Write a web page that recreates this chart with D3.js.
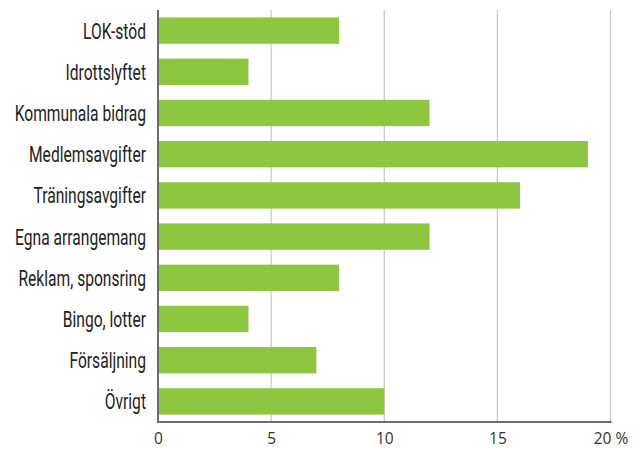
<!DOCTYPE html>
<html>
<head>
<meta charset="utf-8">
<script src="https://cdn.jsdelivr.net/npm/d3@7"></script>
<style>
  html, body { margin: 0; padding: 0; background: #fff; }
  svg { display: block; }
</style>
</head>
<body>
<svg id="chart" width="640" height="449"></svg>
<script>
// Income sources, share in percent
const categories = ["LOK-stöd", "Idrottslyftet", "Kommunala bidrag", "Medlemsavgifter",
  "Träningsavgifter", "Egna arrangemang", "Reklam, sponsring", "Bingo, lotter",
  "Försäljning", "Övrigt"];
const values = [8, 4, 12, 19, 16, 12, 8, 4, 7, 10];
const tickValues = [0, 5, 10, 15, 20];
const tickLabels = ["0", "5", "10", "15", "20 %"];

const svg = d3.select("#chart");
const plot = { left: 158, right: 610.5, top: 10, bottom: 422 };

const x = d3.scaleLinear().domain([0, 20]).range([plot.left, plot.right]);
const y = d3.scaleBand().domain(categories).range([plot.top, plot.bottom])
  .paddingInner(0.36).paddingOuter(0.18);

// vertical gridlines
svg.append("g").selectAll("line")
  .data(tickValues.filter(v => v > 0))
  .join("line")
  .attr("x1", d => x(d)).attr("x2", d => x(d))
  .attr("y1", plot.top).attr("y2", plot.bottom)
  .attr("stroke", "#c6c6c6").attr("stroke-width", 1.2);

// bars
svg.append("g").selectAll("rect")
  .data(categories)
  .join("rect")
  .attr("x", x(0))
  .attr("y", d => y(d))
  .attr("width", (d, i) => x(values[i]) - x(0))
  .attr("height", y.bandwidth())
  .attr("fill", "#8dc63f");

// bottom axis
const xAxis = d3.axisBottom(x).tickValues(tickValues)
  .tickFormat((d, i) => tickLabels[i]).tickSize(0).tickPadding(11);
const gx = svg.append("g").attr("transform", `translate(0,${plot.bottom})`).call(xAxis);
gx.select(".domain").attr("stroke", "#6b6b6b").attr("stroke-width", 2)
  .attr("d", `M${plot.left},0H${plot.right + 1}`);
gx.selectAll("text")
  .attr("font-family", "'Open Sans', 'Noto Sans', sans-serif")
  .attr("font-size", 15.5).attr("fill", "#333");

// left axis with condensed category labels
const yAxis = d3.axisLeft(y).tickSize(0).tickPadding(12);
const gy = svg.append("g").attr("transform", `translate(${plot.left},0)`).call(yAxis);
gy.select(".domain").attr("stroke", "#6b6b6b").attr("stroke-width", 2)
  .attr("d", `M0,${plot.top}V${plot.bottom + 1}`);
gy.selectAll("text")
  .attr("x", 0)
  .attr("dy", "0.36em")
  .attr("transform", "translate(-12,0) scale(0.71,1)")
  .attr("font-family", "Roboto, 'Noto Sans', sans-serif")
  .attr("font-size", 22).attr("fill", "#222");
</script>
</body>
</html>
